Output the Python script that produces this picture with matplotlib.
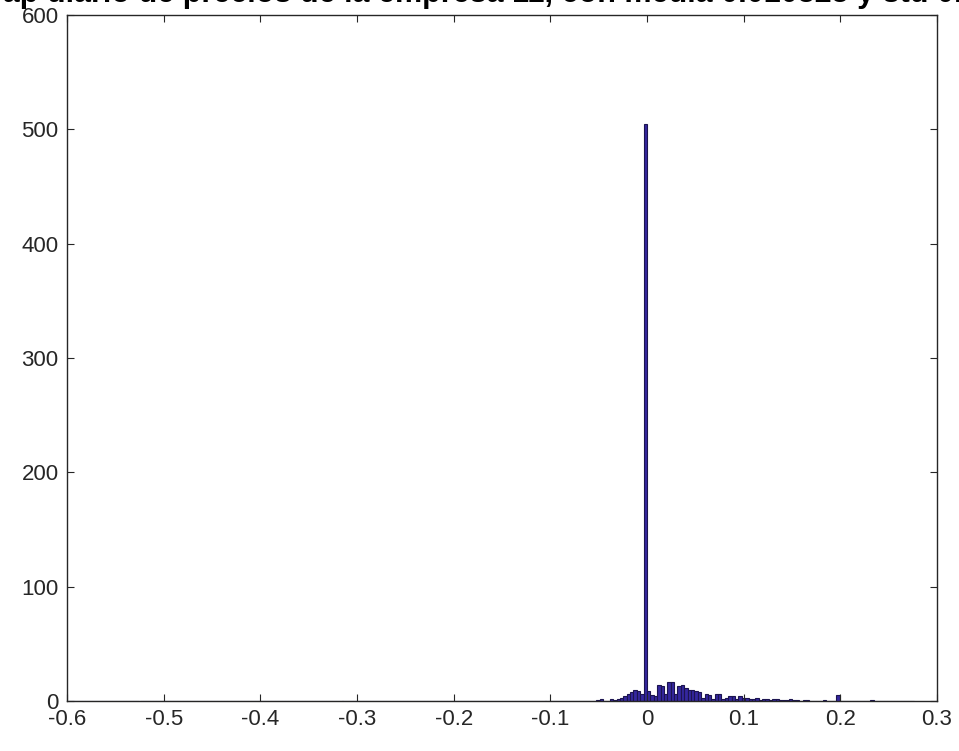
import numpy as np
import matplotlib
matplotlib.use("Agg")
import matplotlib.pyplot as plt

plt.rcParams['font.family'] = ['Liberation Sans', 'DejaVu Sans']
plt.rcParams['axes.unicode_minus'] = False

# histogram bins: width 0.0035, one edge sitting on 0
bin_start = -0.5985
bin_width = 0.0035
n_bins = 250
first_bin = 156  # index of first non-empty region
counts_near_zero = [1, 2, 0, 0, 2, 1, 2, 3, 4, 6, 8, 10, 9, 6, 505, 9, 5, 4, 14, 13,
                    6, 17, 17, 6, 13, 14, 11, 10, 10, 9, 8, 3, 6, 5, 2, 6, 6, 2, 3, 4,
                    4, 2, 4, 3, 3, 2, 2, 3, 1, 2, 2, 1, 2, 2, 1, 1, 1, 2, 1, 1,
                    0, 1, 1, 0, 0, 0, 0, 1, 0, 0, 0, 5, 0, 0, 0, 0, 0, 0, 0, 0,
                    0, 1]

title = "Gap diario de precios de la empresa 11, con media 0.010325 y std 0.041"

edges = bin_start + bin_width * np.arange(n_bins + 1)
centers = edges[:-1] + bin_width / 2
weights = np.zeros(n_bins)
weights[first_bin:first_bin + len(counts_near_zero)] = counts_near_zero

fig = plt.figure(figsize=(9.59, 7.51), dpi=100)
ax = fig.add_axes([67 / 959, 1 - 701 / 751, 870 / 959, 686 / 751])

ax.hist(centers, bins=edges, weights=weights, color='#34279e',
        edgecolor='#1c1450', linewidth=0.8)

ax.set_xlim(-0.6, 0.3)
ax.set_ylim(0, 600)
ax.set_xticks(np.arange(-0.6, 0.31, 0.1))
ax.set_xticklabels(["-0.6", "-0.5", "-0.4", "-0.3", "-0.2", "-0.1", "0", "0.1", "0.2", "0.3"])
ax.set_yticks(np.arange(0, 601, 100))
ax.tick_params(direction='in', top=True, right=True, length=5, width=0.8,
               labelsize=16, colors='#262626', pad=6)
for s in ax.spines.values():
    s.set_color('#262626')
    s.set_linewidth(1.0)

fig.text(-0.022, 1 - 2 / 751, title, ha='left', va='baseline',
         fontsize=22, fontweight='bold', color='black')

fig.savefig("out.png", dpi=100)
